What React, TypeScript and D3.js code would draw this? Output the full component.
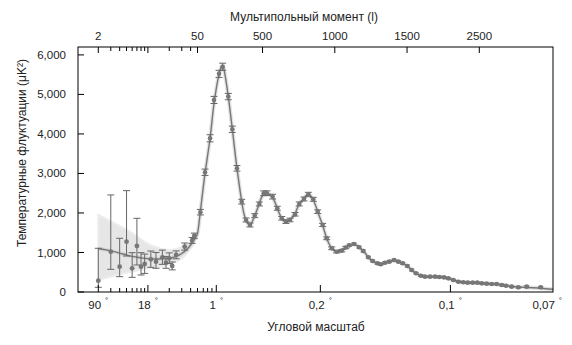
import React from "react";
import * as d3 from "d3";

// ---------- data ----------
// low-l points: multipole, value, lower, upper
const lowL = [2, 3, 4, 5, 6, 7, 8, 9, 11, 13, 16, 18, 20, 22, 25, 33, 42, 45];
const lowVal = [286, 1020, 641, 1274, 599, 1165, 641, 709, 827, 768, 878, 742, 852, 658, 937, 1147, 1300, 1418];
const lowLo = [119, 574, 388, 911, 371, 684, 430, 470, 625, 600, 700, 600, 720, 560, 840, 1060, 1230, 1350];
const lowHi = [1106, 2456, 1359, 2565, 995, 1865, 995, 960, 1037, 1000, 1060, 900, 990, 760, 1040, 1240, 1380, 1490];

// binned high-l points
const highL = [70, 102, 137, 164, 199, 224, 263, 291, 323, 356, 386, 413, 446, 478, 508, 531, 570, 602, 633, 662, 690, 725, 754, 787, 817, 851, 882, 916, 944, 979, 1013, 1048, 1076, 1100, 1133, 1168, 1197, 1232, 1262, 1294, 1318, 1347, 1377, 1410, 1440, 1470, 1502, 1532, 1562, 1595, 1624, 1659, 1694, 1723, 1756, 1786, 1820, 1855, 1889, 1920, 1954, 1986, 2017, 2051, 2086, 2120, 2155, 2185, 2224, 2270, 2328, 2425];
const highVal = [2020, 3030, 3890, 4860, 5520, 5700, 4945, 4118, 3130, 2286, 1823, 1696, 1932, 2228, 2498, 2500, 2414, 2119, 1866, 1780, 1823, 1967, 2228, 2354, 2473, 2346, 2033, 1696, 1359, 1106, 1020, 1046, 1125, 1180, 1215, 1131, 1038, 878, 785, 726, 701, 742, 768, 810, 768, 726, 658, 557, 473, 413, 388, 388, 388, 380, 371, 346, 304, 261, 245, 236, 236, 236, 219, 211, 203, 203, 177, 160, 135, 118, 135, 118];
const highErr = [70, 80, 90, 90, 90, 90, 80, 80, 70, 60, 50, 50, 50, 50, 60, 60, 60, 50, 45, 45, 45, 45, 50, 50, 50, 50, 45, 40, 35, 35, 30, 30, 30, 30, 30, 30, 30, 25, 25, 25, 25, 25, 25, 25, 25, 25, 25, 25, 20, 20, 20, 20, 20, 20, 20, 20, 20, 20, 20, 20, 20, 20, 20, 20, 20, 20, 20, 20, 20, 20, 25, 25];

// theory (best-fit) curve
const curveL = [2, 3, 4, 5, 6, 8, 10, 13, 16, 20, 25, 30, 35, 40, 45, 50, 67, 80, 100, 120, 140, 160, 180, 200, 215, 225, 240, 263, 291, 323, 340, 356, 370, 386, 400, 413, 430, 446, 462, 478, 494, 508, 520, 535, 550, 570, 586, 602, 617, 633, 648, 662, 676, 690, 707, 725, 740, 754, 770, 787, 802, 817, 834, 851, 866, 882, 899, 916, 930, 944, 960, 979, 995, 1013, 1030, 1048, 1062, 1076, 1100, 1115, 1133, 1150, 1168, 1183, 1197, 1215, 1232, 1247, 1262, 1280, 1294, 1318, 1335, 1347, 1377, 1410, 1440, 1470, 1502, 1532, 1562, 1595, 1624, 1659, 1694, 1723, 1756, 1786, 1820, 1855, 1889, 1920, 1954, 1986, 2017, 2051, 2086, 2120, 2155, 2185, 2224, 2270, 2328, 2425, 2510];
const curveVal = [1100, 1040, 985, 935, 900, 865, 845, 835, 840, 855, 900, 975, 1070, 1190, 1330, 1480, 1950, 2350, 2950, 3450, 3980, 4650, 5150, 5520, 5700, 5740, 5500, 4950, 4120, 3130, 2680, 2290, 2000, 1820, 1730, 1700, 1790, 1930, 2080, 2250, 2400, 2490, 2510, 2490, 2460, 2400, 2270, 2120, 1980, 1870, 1800, 1775, 1790, 1830, 1890, 1980, 2120, 2230, 2300, 2360, 2440, 2470, 2420, 2340, 2200, 2030, 1860, 1690, 1520, 1360, 1220, 1110, 1050, 1020, 1030, 1050, 1080, 1120, 1175, 1200, 1215, 1190, 1135, 1080, 1035, 960, 880, 820, 785, 745, 720, 705, 720, 740, 770, 800, 770, 725, 655, 560, 475, 415, 390, 385, 385, 380, 368, 345, 305, 265, 245, 238, 235, 232, 220, 210, 202, 198, 178, 160, 140, 125, 115, 95, 68];

// cosmic variance band
const bandL = [2, 5.6, 10.8, 20.8, 33.7, 46.6, 50];
const bandUpper = [1950, 1519, 1190, 1063, 1190, 1367, 1480];
const bandLower = [304, 506, 608, 709, 937, 1316, 1480];

// axes
const yTicks = [0, 1000, 2000, 3000, 4000, 5000, 6000];
const topMajor = [2, 10, 50, 500, 1000, 1500, 2000];
const topLabels = ["2", "", "50", "500", "1000", "1500", "2500"];
const topMinor = [3, 4, 5, 6, 7, 8, 9, 20, 30, 40];
const bottomMajorL = [2, 10, 180, 900, 1800];
const bottomLabelL = [2, 10, 180, 900, 1800, 2470];
const bottomLabels = ["90", "18", "1", "0,2", "0,1", "0,07"];
const bottomMinor = [3, 4, 5, 6, 7, 8, 9, 20, 30, 40, 50, 90, 120, 150];

const W = 572, H = 345;
const L = 78, R = 553, T = 47, B = 292;

const xLog = d3.scaleLog().domain([2, 50]).range([98.3, 197.5]);
const xLin = d3.scaleLinear().domain([50, 2000]).range([197.5, 479.3]);
const x = (l: number) => (l <= 50 ? xLog(l) : xLin(l));
const y = d3.scaleLinear().domain([0, 6200]).range([B, T]);

const FONT = "'Liberation Sans', Arial, sans-serif";

export default function App() {
  const curvePts = curveL.map((l, i) => [x(l), y(curveVal[i])] as [number, number]);
  const linePath = d3.line().curve(d3.curveMonotoneX)(curvePts) || "";
  const bandArea =
    d3
      .area<number>()
      .x((_, i) => x(bandL[i]))
      .y0((_, i) => y(bandLower[i]))
      .y1((_, i) => y(bandUpper[i]))
      .curve(d3.curveMonotoneX)(bandL) || "";

  const ptColor = "#777";
  const barColor = "#666";

  return (
    <svg width={W} height={H} style={{ display: "block", position: "absolute", left: 0, top: 0 }} fontFamily={FONT}>
      <rect x={0} y={0} width={W} height={H} fill="#fff" />
      <defs>
        <clipPath id="plot">
          <rect x={L} y={T} width={R - L} height={B - T} />
        </clipPath>
      </defs>
      <g clipPath="url(#plot)">
        <path d={bandArea} fill="#e6e6e6" stroke="#ececec" strokeWidth={2} />
        <path d={linePath} fill="none" stroke="#d0d0d0" strokeWidth={4} strokeOpacity={0.6} />
        <path d={linePath} fill="none" stroke="#777" strokeWidth={1.4} />
        {lowL.map((l, i) => {
          const cx = x(l);
          return (
            <g key={"lo" + i}>
              <line x1={cx} x2={cx} y1={y(lowLo[i])} y2={y(lowHi[i])} stroke={barColor} strokeWidth={1} />
              <line x1={cx - 3.5} x2={cx + 3.5} y1={y(lowLo[i])} y2={y(lowLo[i])} stroke={barColor} strokeWidth={1} />
              <line x1={cx - 3.5} x2={cx + 3.5} y1={y(lowHi[i])} y2={y(lowHi[i])} stroke={barColor} strokeWidth={1} />
              <circle cx={cx} cy={y(lowVal[i])} r={2.4} fill={ptColor} />
            </g>
          );
        })}
        {highL.map((l, i) => {
          const cx = x(l);
          const lo = y(highVal[i] - highErr[i]);
          const hi = y(highVal[i] + highErr[i]);
          const cw = l < 1100 ? 3.5 : 2.5;
          return (
            <g key={"hi" + i}>
              <line x1={cx} x2={cx} y1={lo} y2={hi} stroke={barColor} strokeWidth={1} />
              <line x1={cx - cw} x2={cx + cw} y1={lo} y2={lo} stroke={barColor} strokeWidth={1} />
              <line x1={cx - cw} x2={cx + cw} y1={hi} y2={hi} stroke={barColor} strokeWidth={1} />
              <circle cx={cx} cy={y(highVal[i])} r={2.3} fill={ptColor} />
            </g>
          );
        })}
      </g>

      {/* frame */}
      <rect x={L} y={T} width={R - L} height={B - T} fill="none" stroke="#000" strokeWidth={1} />

      {/* y axis */}
      {yTicks.map((v) => (
        <g key={"y" + v}>
          <line x1={L} x2={L + 6} y1={y(v)} y2={y(v)} stroke="#000" />
          <text x={66} y={y(v)} dy="0.35em" textAnchor="end" fontSize={11.5} fill="#222">
            {d3.format(",")(v)}
          </text>
        </g>
      ))}

      {/* top axis */}
      {topMajor.map((l, i) => (
        <g key={"tm" + l}>
          <line x1={x(l)} x2={x(l)} y1={T} y2={T + 6} stroke="#000" />
          {topLabels[i] && (
            <text x={x(l)} y={40} textAnchor="middle" fontSize={11.5} fill="#222">
              {topLabels[i]}
            </text>
          )}
        </g>
      ))}
      {topMinor.map((l) => (
        <line key={"tn" + l} x1={x(l)} x2={x(l)} y1={T} y2={T + 4} stroke="#000" />
      ))}

      {/* bottom axis */}
      {bottomMajorL.map((l) => (
        <line key={"bm" + l} x1={x(l)} x2={x(l)} y1={B} y2={B - 7} stroke="#000" />
      ))}
      {bottomMinor.map((l) => (
        <line key={"bn" + l} x1={x(l)} x2={x(l)} y1={B} y2={B - 4} stroke="#000" />
      ))}
      {bottomLabelL.map((l, i) => (
        <text key={"bl" + l} x={x(l)} y={309} textAnchor="middle" fontSize={11.5} fill="#222">
          <tspan>{bottomLabels[i]}</tspan>
          <tspan dx={4} dy={-6} fontSize={8}>°</tspan>
        </text>
      ))}

      {/* titles */}
      <text x={304} y={21} textAnchor="middle" fontSize={12} fill="#222">
        Мультипольный момент (l)
      </text>
      <text x={316} y={331} textAnchor="middle" fontSize={12} fill="#222">
        Угловой масштаб
      </text>
      <text transform="translate(26,153) rotate(-90)" textAnchor="middle" fontSize={12} fill="#222">
        Температурные флуктуации (μK²)
      </text>
    </svg>
  );
}
